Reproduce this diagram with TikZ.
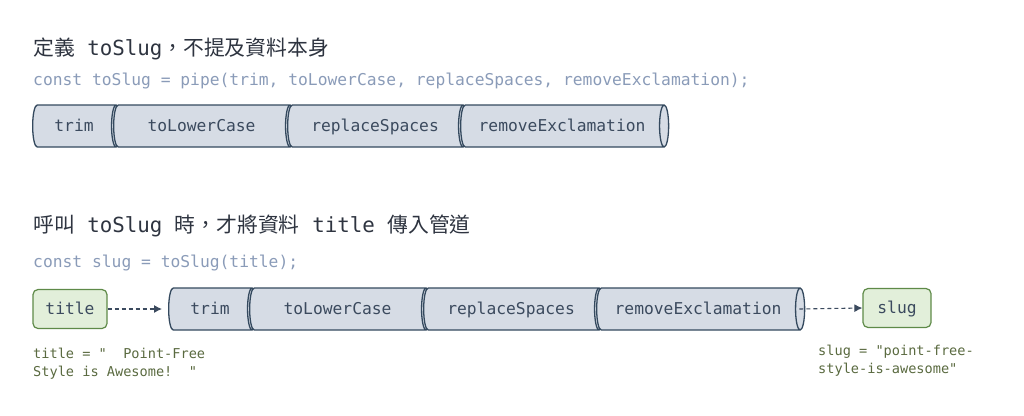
\documentclass[tikz,border=0pt]{standalone}
\usepackage{fontspec}
\setmonofont{DejaVu Sans Mono}
\newfontfamily\cjk{Noto Sans CJK TC}
\usetikzlibrary{shapes.geometric,arrows.meta}

\definecolor{headtext}{HTML}{2E3440}
\definecolor{codegray}{HTML}{8A9BB8}
\definecolor{pipefill}{HTML}{D6DCE5}
\definecolor{pipeline}{HTML}{34495E}
\definecolor{pipetext}{HTML}{3B4A5E}
\definecolor{valfill}{HTML}{E2EFDA}
\definecolor{valline}{HTML}{5E8A48}
\definecolor{notetext}{HTML}{5A6A40}

\begin{document}
\begin{tikzpicture}[x=1pt, y=-1pt,
    heading/.style={anchor=base west, inner sep=0, text=headtext,
        font=\ttfamily\fontsize{20.8}{24}\selectfont},
    codeline/.style={anchor=base west, inner sep=0, text=codegray,
        font=\ttfamily\fontsize{16.3}{20}\selectfont},
    pipeseg/.style={cylinder, draw=pipeline, fill=pipefill, line width=1.3pt,
        aspect=0.65, minimum width=42pt, inner sep=0, anchor=west,
        text height=12pt, text depth=2pt,
        text=pipetext, font=\ttfamily\fontsize{16.3}{20}\selectfont},
    valbox/.style={rectangle, rounded corners=5pt, draw=valline, fill=valfill,
        line width=1.2pt, minimum height=39pt, text=pipetext,
        text height=12pt, text depth=2pt,
        font=\ttfamily\fontsize{16.3}{20}\selectfont},
    note/.style={anchor=base west, inner sep=0, text=notetext, align=left,
        font=\ttfamily\fontsize{13.6}{18}\selectfont},
    flow/.style={draw=pipetext, line width=1.1pt, dash pattern=on 4pt off 3pt,
        -{Latex[length=8pt,width=8pt]}}]
    \useasboundingbox (0,0) rectangle (1024,415);

    % Part 1: define the pipe
    \node[heading] (headA) at (33,55) {{\cjk 定義} toSlug{\cjk ，不提及資料本身}};
    \node[codeline] (codeA) at (33,85) {const toSlug = pipe(trim, toLowerCase, replaceSpaces, removeExclamation);};

    \node[pipeseg, minimum height=88pt] (trimA) at (32,126) {trim};
    \node[pipeseg, minimum height=181pt] (lowerA) at (113,126) {toLowerCase};
    \node[pipeseg, minimum height=180pt] (spacesA) at (287,126) {replaceSpaces};
    \node[pipeseg, minimum height=208pt] (exclA) at (460,126) {removeExclamation};

    % Part 2: call the pipe with data
    \node[heading] (headB) at (33,232) {{\cjk 呼叫} toSlug {\cjk 時，才將資料} title {\cjk 傳入管道}};
    \node[codeline] (codeB) at (33,267) {const slug = toSlug(title);};

    \node[valbox, minimum width=74pt] (title) at (70,309) {title};

    \node[pipeseg, minimum height=88pt] (trimB) at (168,309) {trim};
    \node[pipeseg, minimum height=181pt] (lowerB) at (249,309) {toLowerCase};
    \node[pipeseg, minimum height=180pt] (spacesB) at (423,309) {replaceSpaces};
    \node[pipeseg, minimum height=208pt] (exclB) at (596,309) {removeExclamation};

    \node[valbox, minimum width=68pt] (slug) at (897,308) {slug};

    \draw[flow] (title.east) -- ([xshift=-6pt]trimB.west);
    \draw[flow] ([xshift=-6pt]exclB.east) -- (slug.west);

    % Values
    \node[note] (titleval) at (33,376) {title = "\ \ Point-Free\\Style is Awesome!\ \ "};
    \node[note] (slugval) at (818,373) {slug = "point-free-\\style-is-awesome"};
\end{tikzpicture}
\end{document}
